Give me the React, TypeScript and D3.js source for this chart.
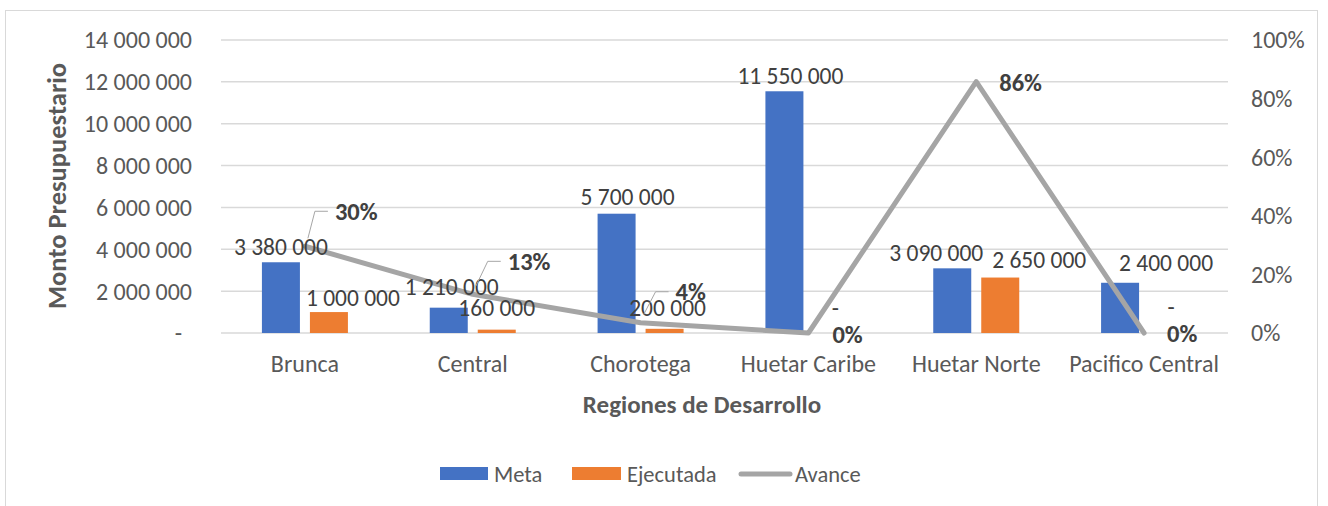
import React from "react";
import * as d3 from "d3";

const categories = ["Brunca", "Central", "Chorotega", "Huetar Caribe", "Huetar Norte", "Pacifico Central"];
const meta = [3380000, 1210000, 5700000, 11550000, 3090000, 2400000];
const ejecutada = [1000000, 160000, 200000, 0, 2650000, 0];
const avance = [0.296, 0.132, 0.035, 0, 0.858, 0];
const leftTicks = [0, 2000000, 4000000, 6000000, 8000000, 10000000, 12000000, 14000000];
const rightTicks = [0, 0.2, 0.4, 0.6, 0.8, 1];
const seriesNames = ["Meta", "Ejecutada"];

const W = 1328;
const H = 506;
const FONT = "Carlito, Calibri, 'Open Sans', sans-serif";
const TXT = "#595959";
const BLUE = "#4472C4";
const ORANGE = "#ED7D31";
const GRAY = "#A5A5A5";

const loc = d3.formatLocale({ thousands: " ", grouping: [3], decimal: ",", currency: ["", ""] });
const fmtNum = (v: number) => (v === 0 ? "-" : loc.format(",.0f")(v));
const fmtPct = d3.format(".0%");

// label nudges (layout only): [dx, dy] relative to default "outside end" position
const metaNudge: [number, number][] = [[0, 1], [3, -5], [11, -1], [6, 0], [-16, 0], [46, -4]];
const ejeNudge: [number, number][] = [[24, 2], [0, -6], [3, -5], [3, -9], [39, -1.5], [3, -10]];
// avance labels: [dx from point to label left, dy to label center, leader?]
const avLabel: [number, number, boolean][] = [
  [30, -35, true],
  [35, -33, true],
  [35, -31, true],
  [24, 1, false],
  [23, 1, false],
  [23, 0, false],
];

export default function App() {
  const x = d3.scaleBand<string>().domain(categories).range([221, 1228]).paddingInner(0).paddingOuter(0);
  const y = d3.scaleLinear().domain([0, 14000000]).range([333, 40]);
  const y2 = d3.scaleLinear().domain([0, 1]).range([333, 40]);
  const xs = d3.scaleBand<string>().domain(seriesNames).range([-43, 43]).paddingInner(0.2083).paddingOuter(0);
  const cx = (c: string) => (x(c) as number) + x.bandwidth() / 2;

  const line = d3
    .line<number>()
    .x((_, i) => cx(categories[i]))
    .y((d) => y2(d));

  const fs = 24;
  const fsData = 23.5;
  const fsPct = 24.5;
  const fsLeg = 22.5;

  return (
    <svg width={W} height={H} style={{ position: "absolute", left: 0, top: 0, background: "#fff" }} fontFamily={FONT}>
      <rect x={5.5} y={10.5} width={1312} height={510} fill="#fff" stroke="#D9D9D9" strokeWidth={1} />
      {/* gridlines */}
      {leftTicks.map((t) => (
        <line key={t} x1={221} x2={1228} y1={y(t)} y2={y(t)} stroke="#D9D9D9" strokeWidth={1.5} />
      ))}
      {/* left ticks */}
      {leftTicks.map((t) => (
        <text key={"l" + t} x={t === 0 ? 182 : 192} y={y(t)} dy="0.35em" textAnchor="end" fontSize={fs} fill={TXT}>
          {fmtNum(t)}
        </text>
      ))}
      {/* right ticks */}
      {rightTicks.map((t) => (
        <text key={"r" + t} x={1251} y={y2(t)} dy="0.35em" textAnchor="start" fontSize={fs} fill={TXT}>
          {fmtPct(t)}
        </text>
      ))}
      {/* bars */}
      {categories.map((c, i) => {
        const bx = cx(c);
        return (
          <g key={c}>
            <rect x={bx + (xs("Meta") as number)} y={y(meta[i])} width={xs.bandwidth()} height={y(0) - y(meta[i])} fill={BLUE} />
            <rect
              x={bx + (xs("Ejecutada") as number)}
              y={y(ejecutada[i])}
              width={xs.bandwidth()}
              height={y(0) - y(ejecutada[i])}
              fill={ORANGE}
            />
          </g>
        );
      })}
      {/* line */}
      <path d={line(avance) || ""} fill="none" stroke={GRAY} strokeWidth={5} strokeLinejoin="round" strokeLinecap="round" />
      {/* value labels */}
      {categories.map((c, i) => {
        const bx = cx(c);
        const mx = bx + (xs("Meta") as number) + xs.bandwidth() / 2;
        const ex = bx + (xs("Ejecutada") as number) + xs.bandwidth() / 2;
        return (
          <g key={"lab" + c}>
            <text x={mx + metaNudge[i][0]} y={y(meta[i]) - 16 + metaNudge[i][1]} dy="0.35em" textAnchor="middle" fontSize={fsData} fill="#404040">
              {fmtNum(meta[i])}
            </text>
            <text x={ex + ejeNudge[i][0]} y={y(ejecutada[i]) - 16 + ejeNudge[i][1]} dy="0.35em" textAnchor="middle" fontSize={fsData} fill="#404040">
              {fmtNum(ejecutada[i])}
            </text>
          </g>
        );
      })}
      {/* avance labels */}
      {categories.map((c, i) => {
        const px = cx(c);
        const py = y2(avance[i]);
        const [dx, dy, leader] = avLabel[i];
        const lx = px + dx;
        const ly = py + dy;
        return (
          <g key={"av" + c}>
            {leader && (
              <polyline
                points={`${px + 3},${py - 8} ${lx - 20},${ly} ${lx - 7},${ly}`}
                fill="none"
                stroke="#A6A6A6"
                strokeWidth={1}
              />
            )}
            <text x={lx} y={ly} dy="0.35em" fontSize={fsPct} fontWeight="bold" fill="#404040">
              {fmtPct(avance[i])}
            </text>
          </g>
        );
      })}
      {/* category labels */}
      {categories.map((c) => (
        <text key={"c" + c} x={cx(c)} y={364} dy="0.35em" textAnchor="middle" fontSize={fs} fill={TXT}>
          {c}
        </text>
      ))}
      {/* axis titles */}
      <text x={702} y={404} dy="0.35em" textAnchor="middle" fontSize={25} fontWeight="bold" fill={TXT}>
        Regiones de Desarrollo
      </text>
      <text
        transform={`translate(57,186) rotate(-90)`}
        dy="0.35em"
        textAnchor="middle"
        fontSize={26.5}
        fontWeight="bold"
        fill={TXT}
      >
        Monto Presupuestario
      </text>
      {/* legend */}
      <rect x={440} y={467} width={48} height={13} fill={BLUE} />
      <text x={494} y={474} dy="0.35em" fontSize={fsLeg} fill={TXT}>Meta</text>
      <rect x={572} y={467} width={49} height={13} fill={ORANGE} />
      <text x={627} y={474} dy="0.35em" fontSize={fsLeg} fill={TXT}>Ejecutada</text>
      <line x1={741} x2={790} y1={474} y2={474} stroke={GRAY} strokeWidth={5} strokeLinecap="round" />
      <text x={795} y={474} dy="0.35em" fontSize={fsLeg} fill={TXT}>Avance</text>
    </svg>
  );
}
